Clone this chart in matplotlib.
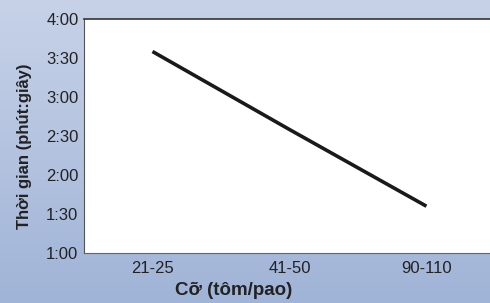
import numpy as np
import matplotlib.pyplot as plt
import matplotlib.ticker as mticker

plt.rcParams['font.family'] = ['Liberation Sans', 'DejaVu Sans']

# Data
SIZES = ["21-25", "41-50", "90-110"]
TIME_SEC = [215, 155, 96]          # thoi gian (giay)
Y_TICKS = [60, 90, 120, 150, 180, 210, 240]


def mmss(v, pos=None):
    v = int(round(v))
    return "%d:%02d" % (v // 60, v % 60)


fig = plt.figure(figsize=(4.9, 3.03), dpi=100)

# gradient background
bg = fig.add_axes([0, 0, 1, 1], zorder=-1)
grad = np.linspace(0, 1, 256).reshape(-1, 1)
top = np.array([0xc7, 0xd2, 0xe8]) / 255.0
bot = np.array([0xa0, 0xb4, 0xd7]) / 255.0
img = top[None, None, :] * (1 - grad[:, :, None]) + bot[None, None, :] * grad[:, :, None]
bg.imshow(img, aspect='auto', extent=[0, 1, 0, 1])
bg.axis('off')

W, H = 490.0, 303.0
ax = fig.add_axes([84 / W, 1 - 253 / H, (490 - 84) / W + 0.01, (253 - 19) / H])
ax.set_facecolor('white')

x = np.arange(len(SIZES))
ax.plot(x, TIME_SEC, color='#1a1a1a', linewidth=2.6, solid_capstyle='butt')

ax.set_xlim(-0.5, 2.5)
ax.set_ylim(60, 240)
ax.set_xticks(x)
ax.set_xticklabels(SIZES)
ax.set_yticks(Y_TICKS)
ax.yaxis.set_major_formatter(mticker.FuncFormatter(mmss))
ax.tick_params(length=0, labelsize=12, colors='#222222')
ax.tick_params(axis='y', pad=4)
ax.tick_params(axis='x', pad=6)

ax.spines['right'].set_visible(False)
ax.spines['top'].set_color('#333333')
ax.spines['top'].set_linewidth(1.2)
ax.spines['left'].set_color('#555555')
ax.spines['bottom'].set_color('#666666')

ax.set_xlabel("Cỡ (tôm/pao)", fontsize=13.5, fontweight='bold', color='#222222', va='center')
ax.set_ylabel("Thời gian (phút:giây)", fontsize=12, fontweight='bold', color='#222222', va='center')
# labels sit off-centre in the original
ax.xaxis.set_label_coords(0.365, -0.16)
ax.yaxis.set_label_coords(-0.144, 0.457)

fig.savefig('out.png', dpi=100)
